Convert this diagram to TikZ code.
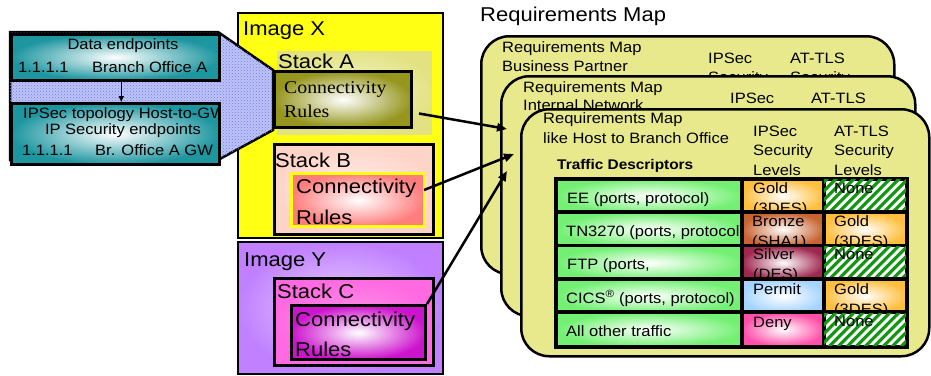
\documentclass[tikz,border=0pt]{standalone}
\usepackage{fontspec}
\setmainfont{Liberation Sans}[FakeStretch=1.1]
\newfontfamily\timesx{Liberation Serif}[FakeStretch=1.1]
\usetikzlibrary{arrows.meta,patterns}

\definecolor{tealbox}{RGB}{30,150,160}
\definecolor{hatchfill}{RGB}{190,196,248}
\definecolor{hatchdot}{RGB}{115,125,230}
\definecolor{imgyellow}{RGB}{255,255,20}
\definecolor{stackA}{RGB}{226,226,130}
\definecolor{oliveA}{RGB}{150,150,30}
\definecolor{stackB}{RGB}{255,212,200}
\definecolor{salmonB}{RGB}{255,125,125}
\definecolor{imgpurple}{RGB}{192,128,255}
\definecolor{stackC}{RGB}{255,105,225}
\definecolor{magentaC}{RGB}{205,20,205}
\definecolor{cardfill}{RGB}{232,232,140}
\definecolor{celgreen}{RGB}{115,240,115}
\definecolor{celgold}{RGB}{255,190,60}
\definecolor{celbronze}{RGB}{200,100,50}
\definecolor{celsilver}{RGB}{160,40,80}
\definecolor{celpermit}{RGB}{165,212,255}
\definecolor{celdeny}{RGB}{255,80,170}
\definecolor{stripegreen}{RGB}{20,150,20}

\newcommand{\fs}[2]{\fontsize{#1}{#2}\selectfont}

\tikzset{
  box/.style={anchor=north west, inner sep=0pt, draw=black, line width=2.5pt},
  lbl/.style={anchor=base west, inner sep=0pt, align=left},
  link/.style={line width=2.5pt, -{Triangle[length=10pt,width=8pt]}},
  card/.style={box, rounded corners=28pt, fill=cardfill},
  cell/.style={box, minimum height=33.4pt},
  stripe/.style={draw=stripegreen, line width=3.2pt},
  greencell/.style={inner color=white, outer color=celgreen},
  goldcell/.style={inner color=white, outer color=celgold},
  bronzecell/.style={inner color=white, outer color=celbronze},
  silvercell/.style={inner color=white, outer color=celsilver},
  permitcell/.style={inner color=white, outer color=celpermit},
  denycell/.style={inner color=white, outer color=celdeny},
}

% table cell: name, left, top, width, look, text dx, text dy (last line), text
\newcommand{\tcell}[8]{%
  \node[cell, #5, minimum width=#4pt] (#1) at (#2,#3) {};
  \begin{scope}
    \clip (#1.north west) rectangle (#1.south east);
    \node[lbl, font=\fs{15}{20}] (#1-t) at ([shift={(#6,#7)}]#1.north west) {#8};
  \end{scope}
  \draw[line width=2.5pt] (#1.north west) rectangle (#1.south east);
}
% striped cell: name, left, top
\newcommand{\nonecell}[3]{%
  \node[cell, fill=white, minimum width=82pt] (#1) at (#2,#3) {};
  \begin{scope}
    \clip (#1.north west) rectangle (#1.south east);
    \foreach \k in {-40,-31,...,90}
      \draw[stripe] ([xshift=\k pt]#1.south west) -- ++(40,-40);
    \node[lbl, font=\fs{15}{20}] (#1-t) at ([shift={(11,15)}]#1.north west) {None};
  \end{scope}
  \draw[line width=2.5pt] (#1.north west) rectangle (#1.south east);
}

\begin{document}
\begin{tikzpicture}[x=1pt,y=-1pt]
\useasboundingbox (0,0) rectangle (931,375);

% images and stacks
\node[box, line width=2pt, fill=imgyellow, minimum width=205pt, minimum height=225pt] (imgX) at (237,12) {};
\node[lbl, font=\fs{20}{24}] (imgXt) at (243,35) {Image X};
\node[box, draw=imgyellow, line width=4pt, inner color=stackA!35, outer color=stackA, minimum width=159pt, minimum height=88pt] (stkA) at (273,47) {};
\node[lbl, font=\fs{20}{24}] (stkAt) at (278,68) {Stack A};

% funnel from the endpoint boxes
\draw[line width=2.5pt, fill=hatchfill, postaction={pattern=crosshatch dots, pattern color=hatchdot}]
  (10,32) -- (218,32) -- (273,70) -- (273,130) -- (218,160) -- (10,160) -- cycle;

\node[box, line width=3pt, inner color=white, outer color=oliveA, minimum width=137pt, minimum height=56pt] (connA) at (273,70) {};
\node[lbl, font=\timesx\fs{18}{24}] (connAt) at (284,117) {Connectivity\\Rules};

\node[box, line width=3pt, inner color=stackB!40, outer color=stackB, minimum width=159pt, minimum height=90pt] (stkB) at (273,143) {};
\node[lbl, font=\fs{20}{24}] (stkBt) at (275,167) {Stack B};
\node[box, draw=imgyellow, line width=3pt, inner color=white, outer color=salmonB, minimum width=133pt, minimum height=53pt] (connB) at (290,172) {};
\node[lbl, font=\fs{20}{31}] (connBt) at (296,224) {Connectivity\\Rules};

\node[box, line width=2pt, inner color=imgpurple!35, outer color=imgpurple, minimum width=205pt, minimum height=132pt] (imgY) at (237,241) {};
\node[lbl, font=\fs{20}{24}] (imgYt) at (244,266) {Image Y};
\node[box, line width=3pt, inner color=stackC!70, outer color=stackC, minimum width=159pt, minimum height=87pt] (stkC) at (273,277) {};
\node[lbl, font=\fs{20}{24}] (stkCt) at (277,298) {Stack C};
\node[box, line width=3pt, inner color=white, outer color=magentaC, minimum width=134pt, minimum height=54pt] (connC) at (290,304) {};
\node[lbl, font=\fs{20}{30}] (connCt) at (295,356) {Connectivity\\Rules};

% endpoint boxes
\node[box, inner color=white, outer color=tealbox, minimum width=208pt, minimum height=46pt] (dataep) at (10,33) {};
\node[anchor=base, inner sep=0pt, font=\fs{15}{18}] (dataept) at (123,49) {Data endpoints};
\node[lbl, font=\fs{15}{18}] (dataip) at (18,72) {1.1.1.1};
\node[lbl, font=\fs{15}{18}] (dataoff) at (92,72) {Branch Office A};
\node[box, inner color=white, outer color=tealbox, minimum width=208pt, minimum height=61pt] (secep) at (10,102) {};
\begin{scope}
  \clip (secep.north west) rectangle (secep.south east);
  \node[lbl, font=\fs{15}{18}] (sectopo) at (23,118) {IPSec topology Host-to-GW};
\end{scope}
\node[anchor=base, inner sep=0pt, font=\fs{15}{18}] (secept) at (123,134) {IP Security endpoints};
\node[lbl, font=\fs{15}{18}] (secip) at (22,155) {1.1.1.1};
\node[lbl, font=\fs{15}{18}] (secoff) at (95,155) {Br. Office A GW};
\draw[line width=1.5pt, -{Triangle[length=6pt,width=5pt]}] ([xshift=6pt]dataep.south) -- ([xshift=6pt]secep.north);

% requirements maps
\node[lbl, font=\fs{20}{24}] (maptitle) at (480,21) {Requirements Map};

\node[card, minimum width=413pt, minimum height=238pt] (card1) at (480,35) {};
\node[lbl, font=\fs{15}{19}] (card1t) at (502,71) {Requirements Map\\Business Partner};
\node[lbl, font=\fs{15}{19.5}] (card1ip) at (708,82.5) {IPSec\\Security};
\node[lbl, font=\fs{15}{19.5}] (card1at) at (790,82.5) {AT-TLS\\Security};

\node[card, minimum width=414pt, minimum height=240pt] (card2) at (500,75) {};
\node[lbl, font=\fs{15}{18}] (card2t) at (523,110) {Requirements Map\\Internal Network};
\node[lbl, font=\fs{15}{19.5}] (card2ip) at (730,103) {IPSec};
\node[lbl, font=\fs{15}{19.5}] (card2at) at (811,103) {AT-TLS};

\node[card, minimum width=408pt, minimum height=247pt] (card3) at (520,108) {};
\node[lbl, font=\fs{15}{20}] (card3t) at (543,143) {Requirements Map\\like Host to Branch Office};
\node[lbl, font=\fs{15}{19.5}] (card3ip) at (753,175) {IPSec\\Security\\Levels};
\node[lbl, font=\fs{15}{19.5}] (card3at) at (834,175) {AT-TLS\\Security\\Levels};
\node[lbl, font=\bfseries\fs{14}{18}] (trafdesc) at (557,169) {Traffic Descriptors};

% table rows
\tcell{r1a}{555}{178}{186}{greencell}{12}{25}{EE (ports, protocol)}
\tcell{r1b}{741}{178}{82}{goldcell}{12}{35}{Gold\\(3DES)}
\nonecell{r1c}{823}{178}
\tcell{r2a}{555}{211.4}{186}{greencell}{11}{25}{TN3270 (ports, protocol)}
\tcell{r2b}{741}{211.4}{82}{bronzecell}{11}{35}{Bronze\\(SHA1)}
\tcell{r2c}{823}{211.4}{82}{goldcell}{11}{35}{Gold\\(3DES)}
\tcell{r3a}{555}{244.8}{186}{greencell}{12}{25}{FTP (ports,}
\tcell{r3b}{741}{244.8}{82}{silvercell}{12}{35}{Silver\\(DES)}
\nonecell{r3c}{823}{244.8}
\tcell{r4a}{555}{278.2}{186}{greencell}{11}{25}{CICS\textsuperscript{®} (ports, protocol)}
\tcell{r4b}{741}{278.2}{82}{permitcell}{12}{16}{Permit}
\tcell{r4c}{823}{278.2}{82}{goldcell}{11}{36}{Gold\\(3DES)}
\tcell{r5a}{555}{311.6}{186}{greencell}{11}{25}{All other traffic}
\tcell{r5b}{741}{311.6}{82}{denycell}{12}{16}{Deny}
\nonecell{r5c}{823}{311.6}

% rules to maps
\coordinate (tipA) at (507,129);
\coordinate (tipB) at (514,154);
\coordinate (tipC) at (507,171);
\draw[link] ([shift={(6,14)}]connA.east) -- (tipA);
\draw[link] ([shift={(-2,-10)}]connB.east) -- (tipB);
\draw[link] (connC.north east) -- (tipC);
\end{tikzpicture}
\end{document}
